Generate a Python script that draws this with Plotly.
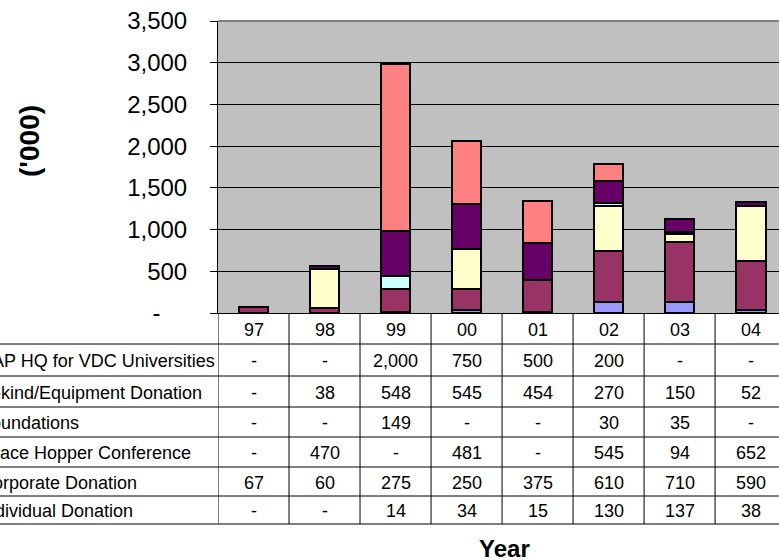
import plotly.graph_objects as go

# ---------------- data ----------------
years = ["97", "98", "99", "00", "01", "02", "03", "04"]
row_labels = [
    "SAP HQ for VDC Universities",
    "In-kind/Equipment Donation",
    "Foundations",
    "Grace Hopper Conference",
    "Corporate Donation",
    "Individual Donation",
]
hq_vdc = [0, 0, 2000, 750, 500, 200, 0, 0]
inkind = [0, 38, 548, 545, 454, 270, 150, 52]
foundations = [0, 0, 149, 0, 0, 30, 35, 0]
grace_hopper = [0, 470, 0, 481, 0, 545, 94, 652]
corporate = [67, 60, 275, 250, 375, 610, 710, 590]
individual = [0, 0, 14, 34, 15, 130, 137, 38]

table_rows = [hq_vdc, inkind, foundations, grace_hopper, corporate, individual]
colors = ["#FF8080", "#660066", "#CCFFFF", "#FFFFCC", "#993366", "#9999FF"]

y_tickvals = [0, 500, 1000, 1500, 2000, 2500, 3000, 3500]
y_ticktext = ["-\u00a0\u00a0\u00a0\u00a0", "500", "1,000", "1,500", "2,000", "2,500", "3,000", "3,500"]

# ---------------- layout geometry (pixels) ----------------
FW, FH = 779, 560
L, T, W, H = 218, 21, 561, 292
FONT = "Arial, Liberation Sans, sans-serif"
TSIZE = 18


def px_x(px):
    return (px - L) / W


def px_y(py):
    return (T + H - py) / H


fig = go.Figure()
xs = list(range(len(years)))

# stack bottom -> top : reverse of table order
for name, vals, color in reversed(list(zip(row_labels, table_rows, colors))):
    fig.add_trace(go.Bar(
        x=xs, y=[v if v else None for v in vals], name=name, width=0.42,
        marker=dict(color=color, line=dict(color="black", width=2.2)),
        hoverinfo="skip",
    ))

annotations = []
shapes = []

# table row boundaries (pixels)
bounds = [313, 344, 376, 407, 437, 467, 496, 524]
centers = [(bounds[i] + bounds[i + 1]) / 2 + 1 for i in range(len(bounds) - 1)]


def fmt(v):
    return f"{v:,}" if v else "-"


# header row
for k, yr in enumerate(years):
    annotations.append(dict(x=k, xref="x", y=px_y(centers[0]), yref="paper",
                            text=yr, showarrow=False, xanchor="center", yanchor="middle",
                            font=dict(size=TSIZE, color="black", family=FONT)))
# body rows
for r, (lab, vals) in enumerate(zip(row_labels, table_rows)):
    cy = px_y(centers[r + 1])
    annotations.append(dict(x=px_x(-22), xref="paper", y=cy, yref="paper",
                            text=lab, showarrow=False, xanchor="left", yanchor="middle",
                            font=dict(size=TSIZE, color="black", family=FONT)))
    for k, v in enumerate(vals):
        annotations.append(dict(x=k, xref="x", y=cy, yref="paper",
                                text=fmt(v), showarrow=False, xanchor="center", yanchor="middle",
                                font=dict(size=TSIZE, color="black", family=FONT)))

# horizontal table lines
for b in bounds[1:]:
    shapes.append(dict(type="line", xref="paper", yref="paper",
                       x0=px_x(-5), x1=1.02, y0=px_y(b), y1=px_y(b),
                       line=dict(color="black", width=1)))
# vertical table lines
for k in range(len(years) + 1):
    shapes.append(dict(type="line", xref="x", yref="paper",
                       x0=k - 0.5, x1=k - 0.5, y0=0, y1=px_y(bounds[-1]),
                       line=dict(color="black", width=1)))
# top border of plot area
shapes.append(dict(type="line", xref="paper", yref="paper", x0=0, x1=1, y0=1, y1=1,
                   line=dict(color="#808080", width=2)))

# axis titles
annotations.append(dict(x=px_x(29), xref="paper", y=px_y(141), yref="paper",
                        text="('000)", textangle=-90, showarrow=False,
                        xanchor="center", yanchor="middle",
                        font=dict(size=28, color="black", family=FONT, weight="bold")))
annotations.append(dict(x=px_x(504), xref="paper", y=px_y(548), yref="paper",
                        text="Year", showarrow=False, xanchor="center", yanchor="middle",
                        font=dict(size=24, color="black", family=FONT, weight="bold")))

fig.update_layout(
    width=FW, height=FH,
    margin=dict(l=L, r=FW - L - W, t=T, b=FH - T - H, pad=0),
    paper_bgcolor="white", plot_bgcolor="#C0C0C0",
    barmode="stack", showlegend=False, bargap=0,
    annotations=annotations, shapes=shapes,
    font=dict(family=FONT, color="black"),
    xaxis=dict(range=[-0.5, 7.4], showticklabels=False, showgrid=False, zeroline=False,
               showline=True, linecolor="black", linewidth=1, ticks=""),
    yaxis=dict(range=[0, 3500], tickvals=y_tickvals, ticktext=y_ticktext,
               showgrid=True, gridcolor="black", gridwidth=1, zeroline=False,
               showline=True, linecolor="black", linewidth=1,
               ticks="outside", ticklen=7, tickcolor="black",
               tickfont=dict(size=24, color="black", family=FONT),
               ticklabelstandoff=18),
)

fig.write_html("out.html")
